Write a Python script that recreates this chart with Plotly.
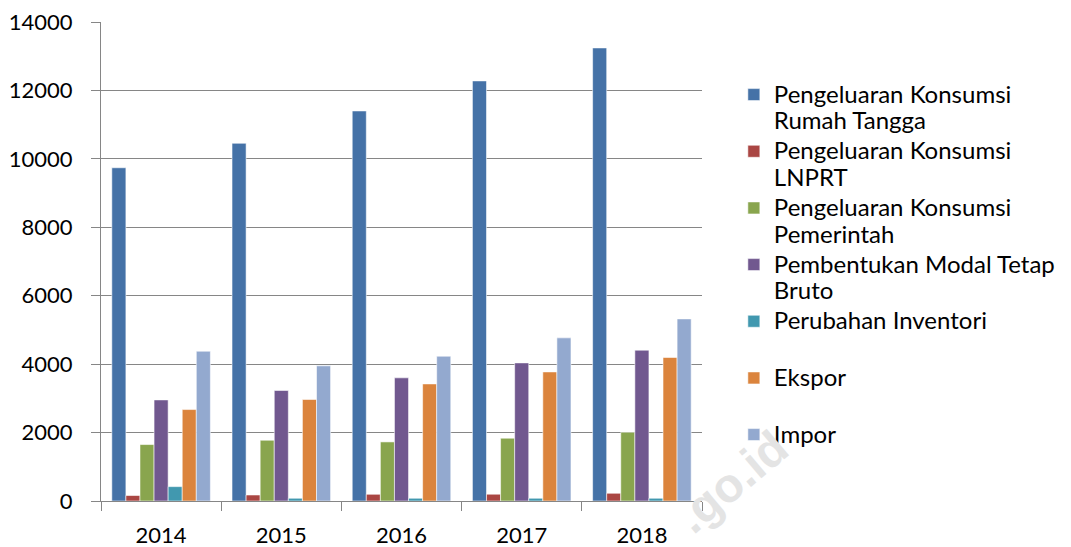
import plotly.graph_objects as go

years = ["2014", "2015", "2016", "2017", "2018"]

series_names = [
    ["Pengeluaran Konsumsi", "Rumah Tangga"],
    ["Pengeluaran Konsumsi", "LNPRT"],
    ["Pengeluaran Konsumsi", "Pemerintah"],
    ["Pembentukan Modal Tetap", "Bruto"],
    ["Perubahan Inventori", " "],
    ["Ekspor", " "],
    ["Impor", " "],
]

konsumsi_rt = [9740, 10455, 11400, 12278, 13242]
konsumsi_lnprt = [160, 175, 196, 198, 226]
konsumsi_pemerintah = [1650, 1776, 1727, 1835, 2010]
pmtb = [2955, 3230, 3600, 4037, 4408]
perubahan_inventori = [420, 80, 80, 80, 80]
ekspor = [2673, 2966, 3422, 3773, 4195]
impor = [4378, 3950, 4232, 4768, 5323]

values = [konsumsi_rt, konsumsi_lnprt, konsumsi_pemerintah, pmtb,
          perubahan_inventori, ekspor, impor]
colors = ["#4572A7", "#AA4643", "#89A54E", "#71588F", "#4198AF", "#DB843D", "#93A9CF"]

y_ticks = [0, 2000, 4000, 6000, 8000, 10000, 12000, 14000]
y_tick_labels = ["0", "2000", "4000", "6000", "8000", "10000", "12000", "14000"]

FONT = "Lato, 'Open Sans', sans-serif"


def legend_label(lines):
    return "<br>".join("<span style='font-size:24px'>%s</span>" % ln for ln in lines)


fig = go.Figure()
for name, vals, col in zip(series_names, values, colors):
    fig.add_trace(go.Bar(
        x=years, y=vals, name=legend_label(name),
        marker=dict(color=col, line=dict(color="rgba(255,255,255,0.55)", width=1)),
    ))

fig.update_layout(
    width=1071, height=547,
    margin=dict(l=101, r=369, t=22, b=46, autoexpand=False),
    paper_bgcolor="white", plot_bgcolor="white",
    barmode="group", bargap=0.18, bargroupgap=0,
    font=dict(family=FONT, size=22, color="#000000"),
    showlegend=True,
    legend=dict(
        x=1.053, xanchor="left", y=0.89, yanchor="top",
        font=dict(family=FONT, size=20.64, color="#000000"),
        valign="top", itemwidth=30,
        bgcolor="rgba(0,0,0,0)",
    ),
    xaxis=dict(
        type="category", showgrid=False, showline=True, linecolor="#868686", linewidth=1,
        ticks="outside", tickson="boundaries", ticklen=9, tickcolor="#868686",
        tickfont=dict(family=FONT, size=22, color="#000000"), ticklabelstandoff=15,
        automargin=False,
    ),
    yaxis=dict(
        range=[0, 14000], tickvals=y_ticks, ticktext=y_tick_labels,
        showgrid=True, gridcolor="#868686", gridwidth=1,
        showline=True, linecolor="#868686", linewidth=1, zeroline=False,
        ticks="outside", ticklen=9, tickcolor="#868686",
        tickfont=dict(family=FONT, size=22, color="#000000"), ticklabelstandoff=14,
        automargin=False,
    ),
    annotations=[dict(
        text="<b>.go.id</b>", xref="paper", yref="paper", x=1.05, y=0.04,
        xanchor="center", yanchor="middle", showarrow=False, textangle=-40,
        font=dict(family="Liberation Sans, Arial, sans-serif", size=48, color="#e4e4e4"),
    )],
)

fig.write_html(
    "out.html",
    config={"displayModeBar": False},
    post_script="document.body.style.margin='0';document.body.style.overflow='hidden';",
)
